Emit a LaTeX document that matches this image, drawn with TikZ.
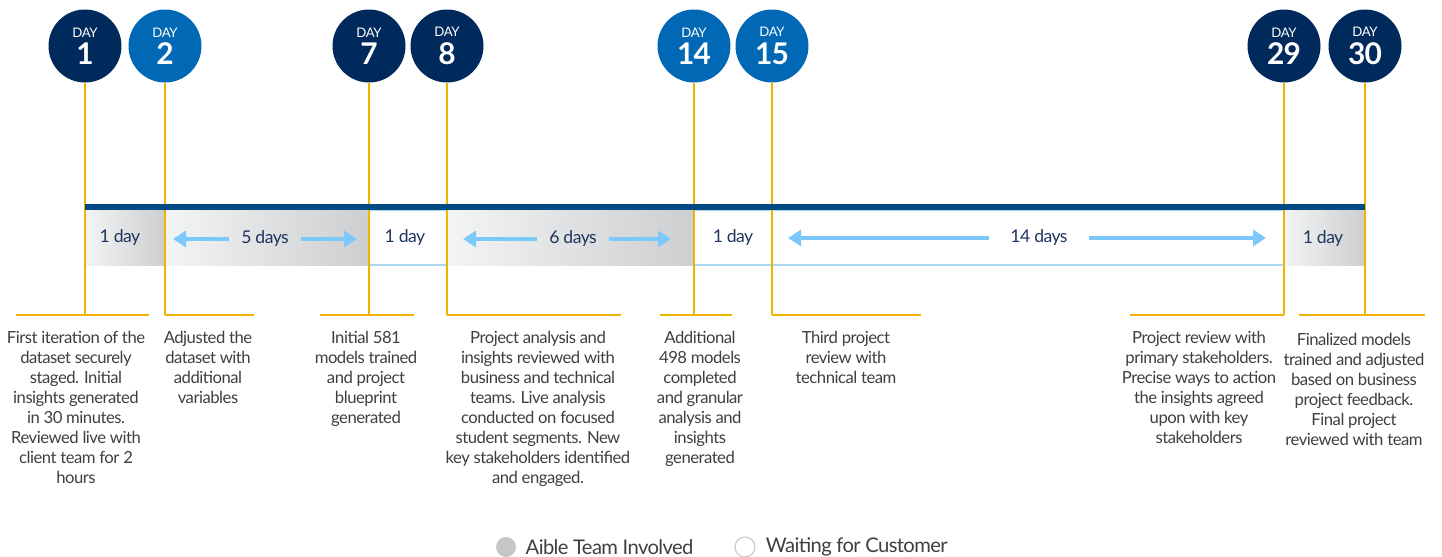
\documentclass[tikz,border=0pt]{standalone}
\usepackage{fontspec}
\setmainfont{Lato}[LetterSpace=-3]
\usepackage{xcolor}
\usetikzlibrary{positioning, arrows.meta}

\definecolor{navy}{HTML}{002A5C}
\definecolor{corpblue}{HTML}{0068B5}
\definecolor{barblue}{HTML}{004A86}
\definecolor{gold}{HTML}{F0B400}
\definecolor{skyarrow}{HTML}{7CC8FA}
\definecolor{skyline}{HTML}{A9D9F7}
\definecolor{notegray}{HTML}{3F3F3F}
\definecolor{spantxt}{HTML}{1E3560}
\definecolor{seglight}{HTML}{F3F4F4}
\definecolor{segdark}{HTML}{CDCED0}

\begin{document}
\begin{tikzpicture}[
    x=0.02cm, y=-0.02cm,
    day/.style = {circle, minimum size=1.46cm, inner sep=0pt, text=white, align=center,
        font=\fontsize{17}{15.5}\selectfont\bfseries},
    dark/.style = {day, fill=navy},
    light/.style = {day, fill=corpblue},
    stem/.style = {draw=gold, line width=0.9pt},
    busy/.style = {left color=seglight, right color=segdark},
    wait/.style = {draw=skyline, line width=0.8pt, fill=white},
    spanlbl/.style = {text=spantxt, inner ysep=0pt, font=\fontsize{10}{12}\selectfont},
    spanarrow/.style = {draw=skyarrow, line width=2.6pt, -{Triangle[length=2.6mm, width=3.2mm]}},
    note/.style = {anchor=north, align=center, inner sep=0pt, text=notegray,
        font=\fontsize{9.5}{11.4}\selectfont},
    legdot/.style = {circle, minimum size=0.4cm, inner sep=0pt},
    legtxt/.style = {inner sep=0pt, text=notegray, font=\fontsize{11.5}{13}\selectfont}
  ]
    \useasboundingbox (0,0) rectangle (1442,557);
    \coordinate (top) at (0,210);
    \coordinate (bot) at (0,265);
    \coordinate (base) at (0,315);

    % day circles
    \foreach \n/\x/\s in {1/85/dark, 2/165/light, 7/369/dark, 8/447/dark,
                          14/694/light, 15/772/light, 29/1284/dark, 30/1365/dark}
        \node[\s] (d\n) at (\x,46) {{\fontsize{7.5}{9}\selectfont\mdseries DAY}\\\n};

    % band below the timeline
    \shade[busy] (d1 |- top) rectangle (d2 |- bot);
    \shade[busy] (d2 |- top) rectangle (d7 |- bot);
    \draw[wait] (d7 |- top) rectangle (d8 |- bot);
    \shade[busy] (d8 |- top) rectangle (d14 |- bot);
    \draw[wait] (d14 |- top) rectangle (d15 |- bot);
    \draw[wait] (d15 |- top) rectangle (d29 |- bot);
    \shade[busy] (d29 |- top) rectangle (d30 |- bot);

    % stems and brackets
    \foreach \n in {1, 2, 7, 8, 14, 15, 29, 30}
        \draw[stem] (d\n.south) -- (d\n |- base);
    \foreach \a/\b in {16/149, 165/254, 320/414, 447/621, 660/732, 772/921, 1130/1284, 1299/1425}
        \draw[stem] (\a,315) -- (\b,315);

    % timeline bar
    \draw[barblue, line width=3.4pt] (d1 |- 0,207) -- (d30 |- 0,207);

    % span labels
    \node[spanlbl] (s1) at (120,238) {1 day};
    \node[spanlbl, inner xsep=0.24cm] (s2) at (265,239) {5 days};
    \node[spanlbl] (s3) at (405,238) {1 day};
    \node[spanlbl, inner xsep=0.24cm] (s4) at (573,239) {6 days};
    \node[spanlbl] (s5) at (733,238) {1 day};
    \node[spanlbl, inner xsep=0.42cm] (s6) at (1039,238) {14 days};
    \node[spanlbl] (s7) at (1323,239) {1 day};

    \coordinate (a2l) at (173,239);  \coordinate (a2r) at (357,239);
    \coordinate (a4l) at (463,239);  \coordinate (a4r) at (671,239);
    \coordinate (a6l) at (788,238);  \coordinate (a6r) at (1266,238);
    \draw[spanarrow] (s2.west) -- (a2l);
    \draw[spanarrow] (s2.east) -- (a2r);
    \draw[spanarrow] (s4.west) -- (a4l);
    \draw[spanarrow] (s4.east) -- (a4r);
    \draw[spanarrow] (s6.west) -- (a6l);
    \draw[spanarrow] (s6.east) -- (a6r);

    % notes
    \node[note] (note1) at (76,331) {First iteration of the\\dataset securely\\staged. Initial\\insights generated\\in 30 minutes.\\Reviewed live with\\client team for 2\\hours};
    \node[note] (note2) at (208,331) {Adjusted the\\dataset with\\additional\\variables};
    \node[note] (note7) at (366,331) {Initial 581\\models trained\\and project\\blueprint\\generated};
    \node[note] (note8) at (538,331) {Project analysis and\\insights reviewed with\\business and technical\\teams. Live analysis\\conducted on focused\\student segments. New\\key stakeholders identified\\and engaged.};
    \node[note] (note14) at (700,331) {Additional\\498 models\\completed\\and granular\\analysis and\\insights\\generated};
    \node[note] (note15) at (846,331) {Third project\\review with\\technical team};
    \node[note] (note29) at (1199,331) {Project review with\\primary stakeholders.\\Precise ways to action\\the insights agreed\\upon with key\\stakeholders};
    \node[note] (note30) at (1354,333) {Finalized models\\trained and adjusted\\based on business\\project feedback.\\Final project\\reviewed with team};

    % legend
    \node[legdot, fill=segdark!90!gray] (k1) at (506,547) {};
    \node[legtxt, right=0.18cm of k1] (k1t) {Aible Team Involved};
    \node[legdot, draw=gray!40, line width=0.7pt, fill=white] (k2) at (745,547) {};
    \node[legtxt, right=0.2cm of k2] (k2t) {Waiting for Customer};
\end{tikzpicture}
\end{document}
